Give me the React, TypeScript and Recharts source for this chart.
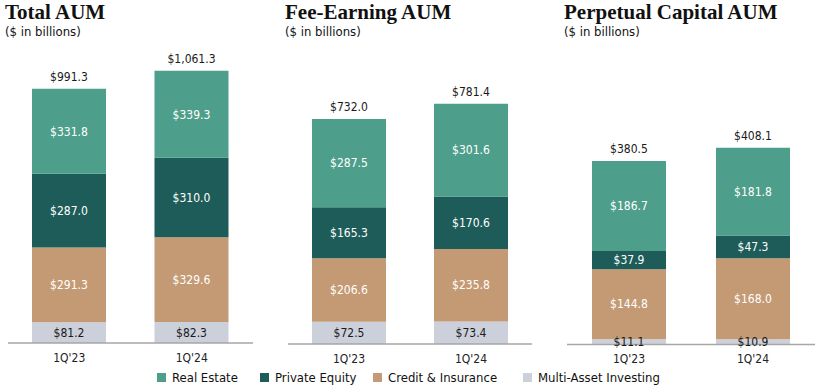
import { BarChart, Bar, XAxis, YAxis, LabelList } from "recharts";

const quarters = ["1Q'23", "1Q'24"];

const totalRealEstate = [331.8, 339.3];
const totalPrivateEquity = [287.0, 310.0];
const totalCredit = [291.3, 329.6];
const totalMultiAsset = [81.2, 82.3];
const totalSum = [991.3, 1061.3];

const feeRealEstate = [287.5, 301.6];
const feePrivateEquity = [165.3, 170.6];
const feeCredit = [206.6, 235.8];
const feeMultiAsset = [72.5, 73.4];
const feeSum = [732.0, 781.4];

const permRealEstate = [186.7, 181.8];
const permPrivateEquity = [37.9, 47.3];
const permCredit = [144.8, 168.0];
const permMultiAsset = [11.1, 10.9];
const permSum = [380.5, 408.1];

const seriesNames = ["Real Estate", "Private Equity", "Credit & Insurance", "Multi-Asset Investing"];
const colors = ["#4d9e8a", "#1d5c58", "#c49a74", "#ccd0da"];

const FONT = "'DejaVu Sans Condensed', 'DejaVu Sans', sans-serif";
const SERIF = "'Liberation Serif', serif";

const fmt = (v: number) =>
  "$" + v.toLocaleString("en-US", { minimumFractionDigits: 1, maximumFractionDigits: 1 });

function build(re: number[], pe: number[], cr: number[], ma: number[], tot: number[]) {
  return quarters.map((q, i) => ({
    quarter: q,
    multi: ma[i],
    credit: cr[i],
    pe: pe[i],
    re: re[i],
    total: tot[i],
  }));
}

const panels = [
  { title: "Total AUM", left: 8, width: 245, bottom: 46, max: 1201, data: build(totalRealEstate, totalPrivateEquity, totalCredit, totalMultiAsset, totalSum) },
  { title: "Fee-Earning AUM", left: 288, width: 244, bottom: 45, max: 1005, data: build(feeRealEstate, feePrivateEquity, feeCredit, feeMultiAsset, feeSum) },
  { title: "Perpetual Capital AUM", left: 567, width: 248, bottom: 44.5, max: 641.7, data: build(permRealEstate, permPrivateEquity, permCredit, permMultiAsset, permSum) },
];

const TotalLabel = (props: any) => {
  const { x, y, width, value } = props;
  return (
    <text x={x + width / 2} y={y - 8} textAnchor="middle" fontSize={12} fontFamily={FONT} fill="#1a1a1a">
      {fmt(value)}
    </text>
  );
};

function Panel({ p }: { p: (typeof panels)[number] }) {
  const segLabel = (fill: string) => ({
    position: "center" as const,
    formatter: (v: any) => fmt(Number(v)),
    fill,
    fontSize: 12,
    fontFamily: FONT,
  });
  return (
    <div style={{ position: "absolute", left: p.left, top: 0 }}>
      <BarChart
        width={p.width}
        height={389}
        data={p.data}
        margin={{ top: 35, right: 0, left: 0, bottom: 0 }}
        barSize={74}
      >
        <XAxis
          dataKey="quarter"
          axisLine={{ stroke: "#a6a6a6", strokeWidth: 1.5 }}
          tickLine={false}
          tickMargin={4}
          tick={{ fill: "#222", fontSize: 12, fontFamily: FONT }}
          height={p.bottom}
        />
        <YAxis hide domain={[0, p.max]} allowDataOverflow />
        <Bar dataKey="multi" stackId="a" fill={colors[3]} isAnimationActive={false}>
          <LabelList dataKey="multi" {...segLabel("#1a1a1a")} />
        </Bar>
        <Bar dataKey="credit" stackId="a" fill={colors[2]} isAnimationActive={false}>
          <LabelList dataKey="credit" {...segLabel("#ffffff")} />
        </Bar>
        <Bar dataKey="pe" stackId="a" fill={colors[1]} isAnimationActive={false}>
          <LabelList dataKey="pe" {...segLabel("#ffffff")} />
        </Bar>
        <Bar dataKey="re" stackId="a" fill={colors[0]} isAnimationActive={false}>
          <LabelList dataKey="re" {...segLabel("#ffffff")} />
          <LabelList dataKey="total" content={<TotalLabel />} />
        </Bar>
      </BarChart>
    </div>
  );
}

const legendX = [157, 260, 373, 523];

export default function App() {
  return (
    <div style={{ position: "fixed", left: 0, top: 0, width: 820, height: 389, background: "#fff", overflow: "hidden" }}>
      {panels.map((p) => (
        <div key={p.title}>
          <div
            style={{
              position: "absolute",
              left: p.left - 3,
              top: 0,
              fontFamily: SERIF,
              fontWeight: "bold",
              fontSize: 21,
              color: "#111",
              whiteSpace: "nowrap",
            }}
          >
            {p.title}
          </div>
          <div
            style={{
              position: "absolute",
              left: p.left - 3,
              top: 24,
              fontFamily: FONT,
              fontSize: 13,
              color: "#111",
              whiteSpace: "nowrap",
            }}
          >
            ($ in billions)
          </div>
          <Panel p={p} />
        </div>
      ))}
      {seriesNames.map((name, i) => (
        <div
          key={name}
          style={{ position: "absolute", left: legendX[i], top: 370, display: "flex", alignItems: "center", whiteSpace: "nowrap" }}
        >
          <span style={{ display: "inline-block", width: 9, height: 9, background: colors[i], marginRight: 6 }} />
          <span style={{ fontFamily: FONT, fontSize: 13, color: "#111" }}>{name}</span>
        </div>
      ))}
    </div>
  );
}
